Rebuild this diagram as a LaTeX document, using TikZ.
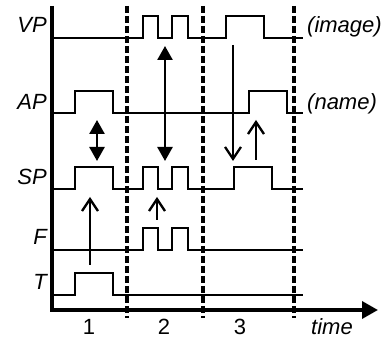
\documentclass[tikz,border=0pt]{standalone}
\usepackage{fontspec}
\setmainfont{Liberation Sans}
\usetikzlibrary{arrows.meta}
\begin{document}
\begin{tikzpicture}[x=1pt,y=-1pt,
  sig/.style={line width=2.2pt, line join=miter},
  axis/.style={line width=3.5pt},
  divider/.style={line width=3.2pt, dash pattern=on 7pt off 3pt},
  lab/.style={font=\fontsize{22}{24}\selectfont\itshape, inner sep=0pt},
  num/.style={font=\fontsize{22}{24}\selectfont, inner sep=0pt},
  dbl/.style={line width=2.5pt, {Triangle[length=14pt,width=15pt]}-{Triangle[length=14pt,width=15pt]}},
  cause/.style={line width=2.3pt, -{Straight Barb[length=12pt,width=16pt,line width=2.3pt]}}]
\useasboundingbox (0,0) rectangle (392,339);
% dividers
\draw[divider] (127,6) -- (127,318);
\draw[divider] (203,6) -- (203,318);
\draw[divider] (294,6) -- (294,318);
% axes
\draw[axis] (52,6) -- (52,310);
\draw[axis, -{Triangle[length=16pt,width=17pt]}] (50.25,310) -- (378,310);
% VP
\draw[sig] (52,38) -- (143,38) -- (143,16) -- (158,16) -- (158,38) -- (172,38) -- (172,16) -- (188,16) -- (188,38) -- (226,38) -- (226,16) -- (264,16) -- (264,38) -- (303,38);
% AP
\draw[sig] (52,113) -- (75,113) -- (75,91) -- (113,91) -- (113,113) -- (249,113) -- (249,91) -- (287,91) -- (287,113) -- (303,113);
% SP
\draw[sig] (52,189) -- (75,189) -- (75,167) -- (113,167) -- (113,189) -- (143,189) -- (143,167) -- (158,167) -- (158,189) -- (172,189) -- (172,167) -- (188,167) -- (188,189) -- (234,189) -- (234,167) -- (272,167) -- (272,189) -- (303,189);
% F
\draw[sig] (52,250) -- (143,250) -- (143,228) -- (158,228) -- (158,250) -- (172,250) -- (172,228) -- (188,228) -- (188,250) -- (303,250);
% T
\draw[sig] (52,295) -- (75,295) -- (75,273) -- (113,273) -- (113,295) -- (303,295);
% labels
\node[lab, anchor=base east] (lvp) at (47,33) {VP};
\node[lab, anchor=base east] (lap) at (47,110) {AP};
\node[lab, anchor=base east] (lsp) at (47,185) {SP};
\node[lab, anchor=base east] (lf) at (47,245) {F};
\node[lab, anchor=base east] (lt) at (47,290) {T};
\node[lab, anchor=base west] (limg) at (307,33) {(image)};
\node[lab, anchor=base west] (lname) at (307,110) {(name)};
\node[num, anchor=base] (n1) at (89,335) {1};
\node[num, anchor=base] (n2) at (164,335) {2};
\node[num, anchor=base] (n3) at (240,335) {3};
\node[lab, anchor=base west] (ltime) at (311,335) {time};
% arrows
\coordinate (a1t) at (97,120); \coordinate (a1b) at (97,161);
\coordinate (a2t) at (165,46); \coordinate (a2b) at (165,161);
\draw[dbl] (a1t) -- (a1b);
\draw[dbl] (a2t) -- (a2b);
\coordinate (c1s) at (90,265); \coordinate (c1e) at (90,197);
\coordinate (c2s) at (157,220); \coordinate (c2e) at (157,197);
\coordinate (c3s) at (233,45); \coordinate (c3e) at (233,161);
\coordinate (c4s) at (256,160); \coordinate (c4e) at (256,120);
\draw[cause] (c1s) -- (c1e);
\draw[cause] (c2s) -- (c2e);
\draw[cause] (c3s) -- (c3e);
\draw[cause] (c4s) -- (c4e);
\end{tikzpicture}
\end{document}
